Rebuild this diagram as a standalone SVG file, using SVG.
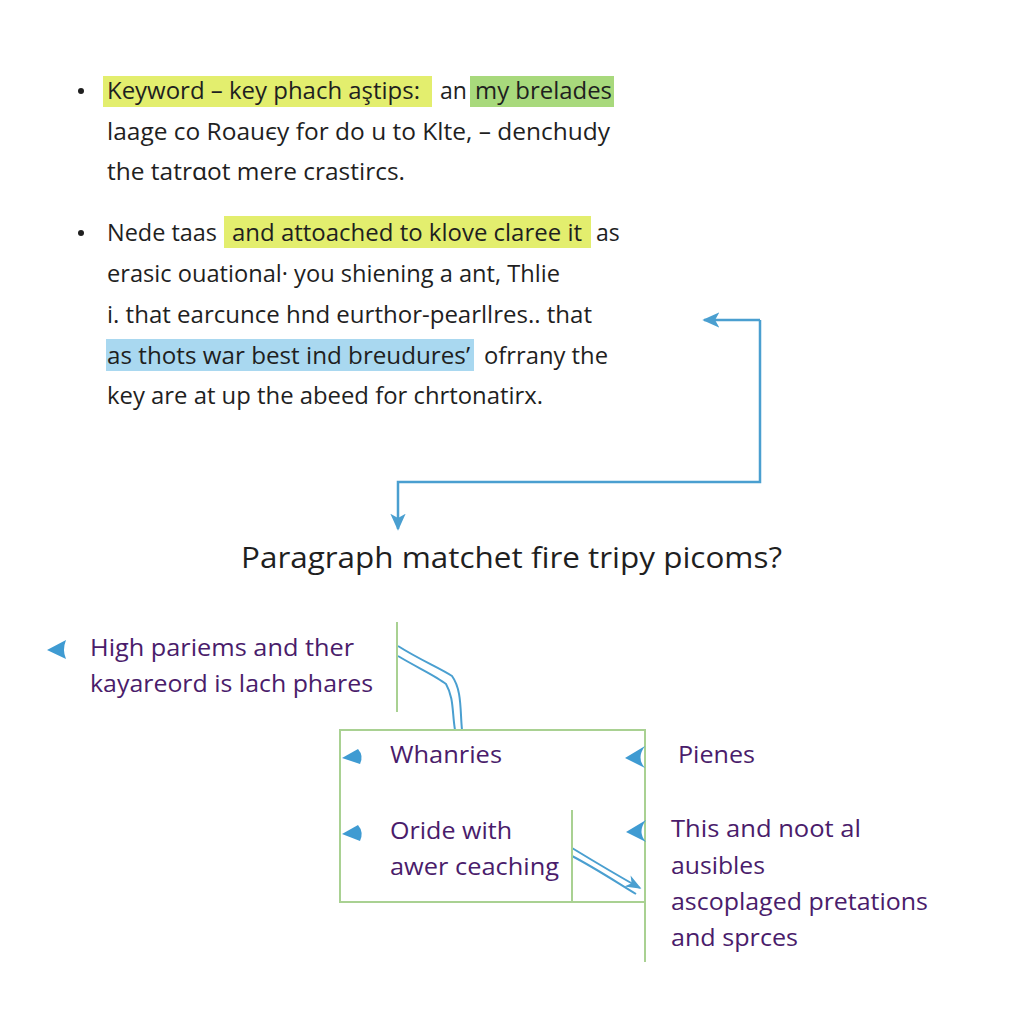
<svg xmlns="http://www.w3.org/2000/svg" width="1024" height="1024" viewBox="0 0 1024 1024">
<defs>
<style>
.t{font-family:"Open Sans","Noto Sans","Liberation Sans",sans-serif;font-size:23px;fill:#1f1f1f}
.p{font-family:"Open Sans","Noto Sans","Liberation Sans",sans-serif;font-size:24px;fill:#4a1c6b}
.ttl{font-family:"Open Sans","Noto Sans","Liberation Sans",sans-serif;font-size:29px;fill:#1f1f1f}
.conn{fill:none;stroke:#4a9fd0;stroke-width:2.5}
.dbl{fill:none;stroke:#4a9fd0;stroke-width:2}
.box{fill:none;stroke:#a9d192;stroke-width:2}
.bl{fill:#3f9bd2}
</style>
<marker id="ah" viewBox="0 0 10 10" refX="9" refY="5" markerWidth="17" markerHeight="17" orient="auto" markerUnits="userSpaceOnUse">
<path d="M0,0.5 L10,5 L0,9.5 L2.5,5 Z" fill="#4a9fd0"/>
</marker>
<marker id="ah2" viewBox="0 0 10 10" refX="9" refY="5" markerWidth="16" markerHeight="16" orient="auto" markerUnits="userSpaceOnUse">
<path d="M0,1 L10,5 L0,9 L3,5 Z" fill="#4a9fd0"/>
</marker>
</defs>
<rect width="1024" height="1024" fill="#ffffff"/>

<g id="bullet1">
<circle cx="81" cy="91" r="3" fill="#1f1f1f"/>
<rect x="103" y="76" width="329" height="31" fill="#e3ee6e"/>
<rect x="470" y="76" width="144" height="31" fill="#a8d97c"/>
<text class="t" x="107" y="99" textLength="313" lengthAdjust="spacingAndGlyphs">Keyword – key phach aştips:</text>
<text class="t" x="440" y="99">an</text>
<text class="t" x="475" y="99" textLength="137" lengthAdjust="spacingAndGlyphs">my brelades</text>
<text class="t" x="107" y="140" textLength="503" lengthAdjust="spacingAndGlyphs">laage co Roauєy for do u to Klte, – denchudy</text>
<text class="t" x="107" y="180" textLength="298" lengthAdjust="spacingAndGlyphs">the tatrɑot mere crastircs.</text>
</g>

<g id="bullet2">
<circle cx="81" cy="233" r="3" fill="#1f1f1f"/>
<rect x="224" y="216" width="367" height="32" fill="#e3ee6e"/>
<rect x="106" y="339" width="368" height="32" fill="#a9d8f0"/>
<text class="t" x="107" y="241" textLength="110" lengthAdjust="spacingAndGlyphs">Nede taas</text>
<text class="t" x="232" y="241" textLength="350" lengthAdjust="spacingAndGlyphs">and attoached to klove claree it</text>
<text class="t" x="596" y="241">as</text>
<text class="t" x="107" y="282" textLength="453" lengthAdjust="spacingAndGlyphs">erasic ouational· you shiening a ant, Thlie</text>
<text class="t" x="107" y="323" textLength="485" lengthAdjust="spacingAndGlyphs">i. that earcunce hnd eurthor-pearllres.. that</text>
<text class="t" x="107" y="364" textLength="363" lengthAdjust="spacingAndGlyphs">as thots war best ind breudures’</text>
<text class="t" x="484" y="364" textLength="124" lengthAdjust="spacingAndGlyphs">ofrrany the</text>
<text class="t" x="107" y="404" textLength="436" lengthAdjust="spacingAndGlyphs">key are at up the abeed for chrtonatirx.</text>
</g>

<g id="title">
<text class="ttl" x="241" y="568" textLength="541" lengthAdjust="spacingAndGlyphs">Paragraph matchet fire tripy picoms?</text>
</g>

<g id="connectors">
<path class="conn" d="M760,320 V482 H398 V529" marker-end="url(#ah)"/>
<path class="conn" d="M760,320 H704" marker-end="url(#ah)"/>
<path class="dbl" d="M398,646 C420,660 440,668 452,676 C462,690 460,710 462,730"/>
<path class="dbl" d="M398,656 C418,668 436,676 446,684 C454,698 452,712 455,730"/>
<path class="dbl" d="M572,848 C595,862 615,874 640,888" marker-end="url(#ah2)"/>
<path class="dbl" d="M572,856 C595,868 613,880 636,894"/>
</g>

<g id="lines">
<line class="box" x1="397" y1="622" x2="397" y2="712"/>
<rect class="box" x="340" y="730" width="305" height="172"/>
<line class="box" x1="645" y1="902" x2="645" y2="962"/>
<line class="box" x1="572" y1="810" x2="572" y2="902"/>
</g>

<g id="node-high">
<path class="bl" d="M47,650 L66,640 Q62,650 66,659 Z"/>
<text class="p" x="90" y="656" textLength="264" lengthAdjust="spacingAndGlyphs">High pariems and ther</text>
<text class="p" x="90" y="692" textLength="283" lengthAdjust="spacingAndGlyphs">kayareord is lach phares</text>
</g>

<g id="node-whanries">
<path class="bl" d="M342,758 L358,749 Q364,756 360,764 Z"/>
<text class="p" x="390" y="763" textLength="112" lengthAdjust="spacingAndGlyphs">Whanries</text>
</g>

<g id="node-oride">
<path class="bl" d="M342,834 L358,825 Q364,832 360,841 Z"/>
<text class="p" x="390" y="839" textLength="122" lengthAdjust="spacingAndGlyphs">Oride with</text>
<text class="p" x="390" y="875" textLength="169" lengthAdjust="spacingAndGlyphs">awer ceaching</text>
</g>

<g id="node-pienes">
<path class="bl" d="M625,758 L645,746 Q636,758 645,768 Z"/>
<text class="p" x="678" y="763" textLength="77" lengthAdjust="spacingAndGlyphs">Pienes</text>
</g>

<g id="node-this">
<path class="bl" d="M626,832 L646,820 Q637,832 646,842 Z"/>
<text class="p" x="671" y="837" textLength="190" lengthAdjust="spacingAndGlyphs">This and noot al</text>
<text class="p" x="671" y="874" textLength="94" lengthAdjust="spacingAndGlyphs">ausibles</text>
<text class="p" x="671" y="910" textLength="257" lengthAdjust="spacingAndGlyphs">ascoplaged pretations</text>
<text class="p" x="671" y="946" textLength="127" lengthAdjust="spacingAndGlyphs">and sprces</text>
</g>
</svg>
